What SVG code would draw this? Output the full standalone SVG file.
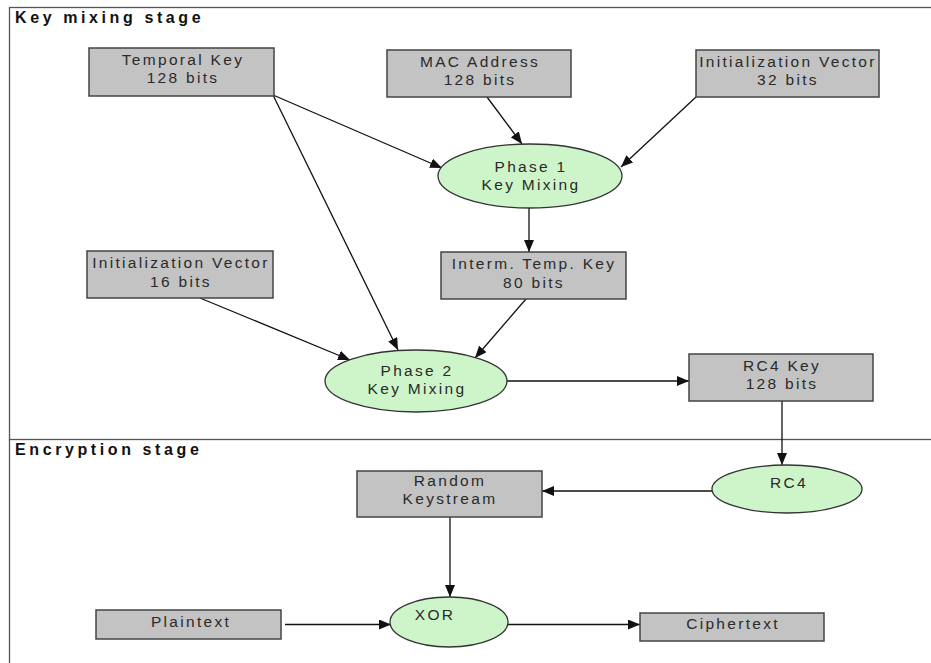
<svg xmlns="http://www.w3.org/2000/svg" width="931" height="663" viewBox="0 0 931 663">
<style>
.frame{fill:none;stroke:#555;stroke-width:1.3}
.box{fill:#c3c3c3;stroke:#444;stroke-width:1.5}
.ell{fill:#cdf5c9;stroke:#333;stroke-width:1.3}
.t{font-family:"Liberation Sans",Arial,sans-serif;font-size:15.5px;letter-spacing:2.3px;fill:#2a2a2a;text-anchor:middle}
.title{font-family:"Liberation Sans",Arial,sans-serif;font-size:16px;font-weight:bold;letter-spacing:3.6px;fill:#111}
.c{fill:none;stroke:#111;stroke-width:1.3}
</style>
<defs>
<marker id="ah" viewBox="0 0 12 10" refX="12" refY="5" markerWidth="12" markerHeight="10" orient="auto" markerUnits="userSpaceOnUse">
<path d="M0,0 L12,5 L0,10 z" fill="#111"/>
</marker>
</defs>
<rect width="931" height="663" fill="#fff"/>
<g id="frames">
<rect class="frame" x="9.5" y="7.5" width="930" height="432"/>
<line class="frame" x1="9.5" y1="439.5" x2="9.5" y2="663"/>
<text class="title" x="15" y="23">Key mixing stage</text>
<text class="title" x="15" y="455">Encryption stage</text>
</g>
<g id="connectors">
<line class="c" x1="273" y1="95" x2="442" y2="168" marker-end="url(#ah)"/>
<line class="c" x1="273" y1="95" x2="398" y2="350" marker-end="url(#ah)"/>
<line class="c" x1="487" y1="97" x2="522" y2="144" marker-end="url(#ah)"/>
<line class="c" x1="696" y1="97" x2="621" y2="167" marker-end="url(#ah)"/>
<line class="c" x1="529" y1="208" x2="529" y2="252" marker-end="url(#ah)"/>
<line class="c" x1="200" y1="298" x2="350" y2="360" marker-end="url(#ah)"/>
<line class="c" x1="526" y1="299" x2="475" y2="358" marker-end="url(#ah)"/>
<line class="c" x1="507" y1="381" x2="689" y2="381" marker-end="url(#ah)"/>
<line class="c" x1="782" y1="401" x2="782" y2="465" marker-end="url(#ah)"/>
<line class="c" x1="712" y1="491" x2="542" y2="491" marker-end="url(#ah)"/>
<line class="c" x1="450" y1="517" x2="450" y2="597" marker-end="url(#ah)"/>
<line class="c" x1="285" y1="624.5" x2="391" y2="624.5" marker-end="url(#ah)"/>
<line class="c" x1="508" y1="624.5" x2="640" y2="624.5" marker-end="url(#ah)"/>
</g>
<g id="temporal-key">
<rect class="box" x="89" y="48" width="185" height="48"/>
<text class="t" x="183" y="65">Temporal Key</text>
<text class="t" x="183" y="83">128 bits</text>
</g>
<g id="mac-address">
<rect class="box" x="387" y="50" width="184" height="47"/>
<text class="t" x="480" y="67">MAC Address</text>
<text class="t" x="480" y="85">128 bits</text>
</g>
<g id="iv32">
<rect class="box" x="696" y="50" width="183" height="47"/>
<text class="t" x="788" y="67">Initialization Vector</text>
<text class="t" x="788" y="85">32 bits</text>
</g>
<g id="phase1">
<ellipse class="ell" cx="530" cy="176" rx="92" ry="32"/>
<text class="t" x="531" y="172">Phase 1</text>
<text class="t" x="531" y="190">Key Mixing</text>
</g>
<g id="iv16">
<rect class="box" x="87" y="251" width="186" height="47"/>
<text class="t" x="181" y="268">Initialization Vector</text>
<text class="t" x="181" y="287">16 bits</text>
</g>
<g id="interm-key">
<rect class="box" x="441" y="252" width="185" height="47"/>
<text class="t" x="534" y="269">Interm. Temp. Key</text>
<text class="t" x="534" y="288">80 bits</text>
</g>
<g id="phase2">
<ellipse class="ell" cx="416" cy="381" rx="91" ry="31"/>
<text class="t" x="417" y="376">Phase 2</text>
<text class="t" x="417" y="394">Key Mixing</text>
</g>
<g id="rc4-key">
<rect class="box" x="689" y="354" width="184" height="47"/>
<text class="t" x="782" y="371">RC4 Key</text>
<text class="t" x="782" y="389">128 bits</text>
</g>
<g id="rc4">
<ellipse class="ell" cx="787" cy="489" rx="75" ry="24"/>
<text class="t" x="789" y="488">RC4</text>
</g>
<g id="random-keystream">
<rect class="box" x="357" y="471" width="185" height="46"/>
<text class="t" x="450" y="486">Random</text>
<text class="t" x="450" y="504">Keystream</text>
</g>
<g id="xor">
<ellipse class="ell" cx="449" cy="622" rx="59" ry="25"/>
<text class="t" x="435" y="620">XOR</text>
</g>
<g id="plaintext">
<rect class="box" x="96" y="610" width="185" height="29"/>
<text class="t" x="191" y="627">Plaintext</text>
</g>
<g id="ciphertext">
<rect class="box" x="640" y="613" width="184" height="28"/>
<text class="t" x="733" y="629">Ciphertext</text>
</g>
</svg>
